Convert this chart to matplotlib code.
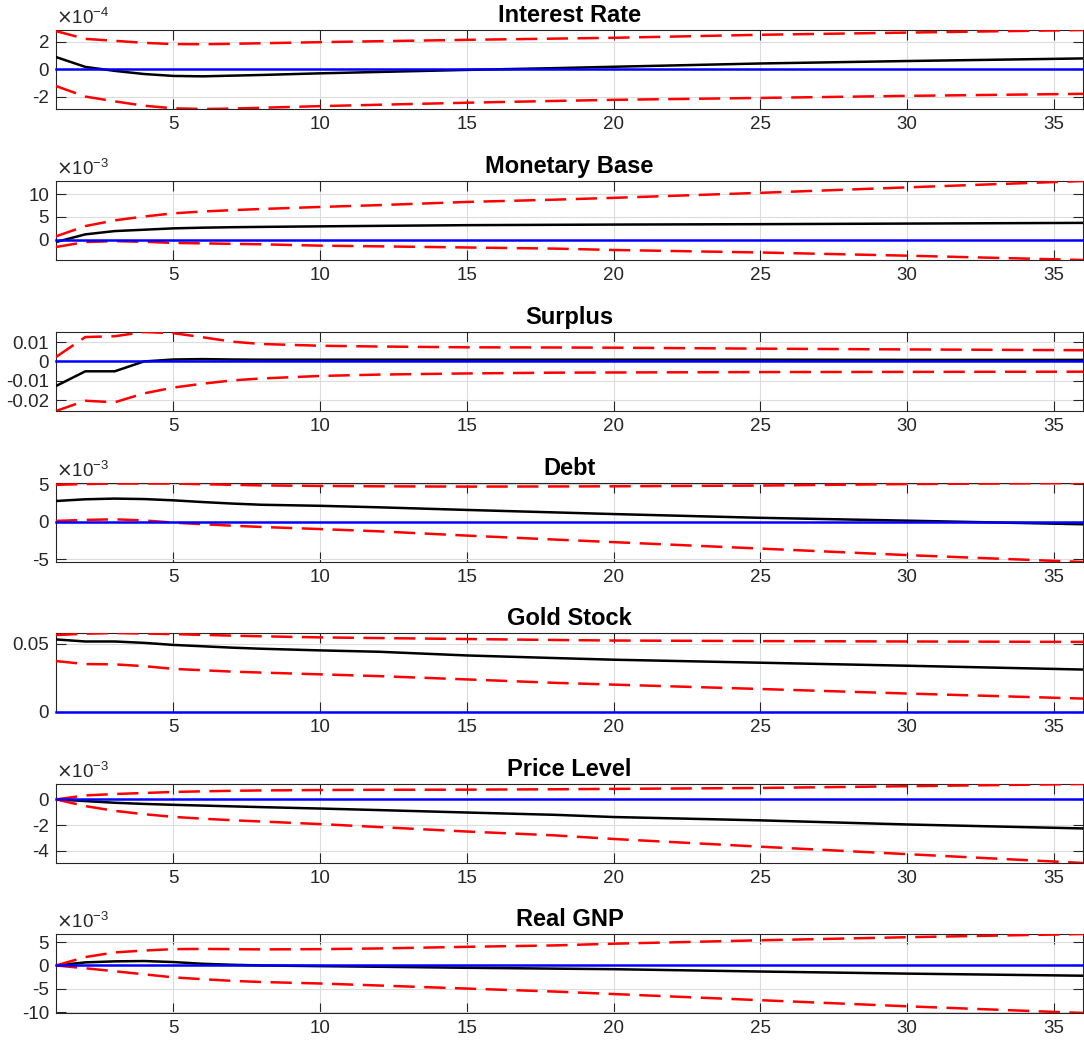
import numpy as np
import matplotlib
matplotlib.use('Agg')
import matplotlib.pyplot as plt
from matplotlib.ticker import FuncFormatter

plt.rcParams['font.family'] = ['Liberation Sans', 'DejaVu Sans']
plt.rcParams['axes.unicode_minus'] = False

# horizons at which the responses are given
h = [1, 2, 3, 4, 5, 6, 7, 8, 10, 12, 15, 18, 20, 25, 30, 36]

titles = ['Interest Rate', 'Monetary Base', 'Surplus', 'Debt',
          'Gold Stock', 'Price Level', 'Real GNP']
# power of ten shown above each axis (0 = none)
exps = [-4, -3, 0, -3, 0, -3, -3]
yticks = [[-2, 0, 2], [0, 5, 10], [-0.02, -0.01, 0, 0.01], [-5, 0, 5],
          [0, 0.05], [-4, -2, 0], [-10, -5, 0, 5]]

rate_med = [0.89, 0.17, -0.12, -0.35, -0.49, -0.52, -0.47, -0.42, -0.30, -0.20, -0.05, 0.08, 0.18, 0.42, 0.60, 0.79]
rate_hi = [2.79, 2.22, 2.08, 1.93, 1.84, 1.83, 1.86, 1.90, 1.98, 2.05, 2.15, 2.24, 2.30, 2.52, 2.68, 2.87]
rate_lo = [-1.23, -2.00, -2.35, -2.67, -2.86, -2.91, -2.88, -2.82, -2.70, -2.60, -2.45, -2.32, -2.24, -2.10, -1.95, -1.80]

base_med = [-0.50, 1.18, 1.90, 2.20, 2.50, 2.65, 2.75, 2.82, 2.94, 3.05, 3.20, 3.28, 3.33, 3.42, 3.55, 3.70]
base_hi = [0.74, 3.00, 4.26, 5.10, 5.80, 6.20, 6.50, 6.75, 7.20, 7.60, 8.30, 8.80, 9.20, 10.30, 11.50, 12.90]
base_lo = [-1.60, -0.50, -0.30, -0.45, -0.70, -0.80, -0.90, -1.00, -1.30, -1.45, -1.70, -1.95, -2.25, -2.80, -3.50, -4.45]

surp_med = [-0.0127, -0.0051, -0.0051, 0.0000, 0.0010, 0.0012, 0.0010, 0.0009, 0.0009, 0.0009, 0.0009, 0.0009, 0.0009, 0.0009, 0.0008, 0.0008]
surp_hi = [0.0023, 0.0126, 0.0130, 0.0152, 0.0146, 0.0125, 0.0102, 0.0090, 0.0081, 0.0077, 0.0073, 0.0072, 0.0071, 0.0066, 0.0062, 0.0058]
surp_lo = [-0.0256, -0.0203, -0.0211, -0.0165, -0.0135, -0.0115, -0.0098, -0.0088, -0.0075, -0.0068, -0.0062, -0.0058, -0.0057, -0.0055, -0.0054, -0.0053]

debt_med = [2.74, 2.97, 3.06, 3.00, 2.83, 2.60, 2.40, 2.24, 2.10, 1.90, 1.55, 1.22, 1.00, 0.50, 0.12, -0.36]
debt_hi = [4.90, 5.00, 5.07, 5.07, 5.07, 4.98, 4.90, 4.82, 4.75, 4.70, 4.66, 4.68, 4.70, 4.80, 5.00, 5.14]
debt_lo = [0.09, 0.22, 0.30, 0.15, -0.14, -0.35, -0.55, -0.72, -1.00, -1.30, -1.87, -2.40, -2.74, -3.60, -4.47, -5.39]

gold_med = [0.0530, 0.0515, 0.0515, 0.0505, 0.0490, 0.0480, 0.0470, 0.0462, 0.0450, 0.0440, 0.0413, 0.0394, 0.0382, 0.0360, 0.0338, 0.0310]
gold_hi = [0.0562, 0.0572, 0.0577, 0.0573, 0.0569, 0.0563, 0.0558, 0.0553, 0.0545, 0.0540, 0.0533, 0.0526, 0.0522, 0.0518, 0.0515, 0.0512]
gold_lo = [0.0372, 0.0350, 0.0348, 0.0335, 0.0315, 0.0305, 0.0295, 0.0288, 0.0275, 0.0262, 0.0238, 0.0213, 0.0200, 0.0168, 0.0135, 0.0098]

price_med = [0, -0.13, -0.26, -0.35, -0.42, -0.48, -0.54, -0.60, -0.71, -0.83, -1.02, -1.20, -1.37, -1.63, -1.95, -2.26]
price_hi = [0, 0.31, 0.42, 0.50, 0.58, 0.63, 0.67, 0.70, 0.73, 0.75, 0.76, 0.79, 0.82, 0.89, 1.03, 1.20]
price_lo = [0, -0.52, -0.89, -1.15, -1.36, -1.50, -1.62, -1.72, -1.92, -2.15, -2.50, -2.80, -3.08, -3.68, -4.26, -4.95]

gnp_med = [0, 0.66, 0.88, 0.95, 0.73, 0.36, 0.15, 0.00, -0.15, -0.28, -0.50, -0.68, -0.80, -1.30, -1.75, -2.20]
gnp_hi = [0, 1.80, 2.80, 3.20, 3.50, 3.55, 3.50, 3.45, 3.50, 3.65, 4.00, 4.30, 4.67, 5.40, 6.06, 6.75]
gnp_lo = [0, -0.60, -1.24, -1.90, -2.55, -2.95, -3.30, -3.55, -3.87, -4.30, -4.96, -5.60, -6.13, -7.45, -8.76, -10.20]

meds = [rate_med, base_med, surp_med, debt_med, gold_med, price_med, gnp_med]
his = [rate_hi, base_hi, surp_hi, debt_hi, gold_hi, price_hi, gnp_hi]
los = [rate_lo, base_lo, surp_lo, debt_lo, gold_lo, price_lo, gnp_lo]

fig = plt.figure(figsize=(10.84, 10.40), dpi=100)
W, H = 1084.0, 1040.0
tops = [30, 181, 332, 483, 633, 784, 934]
ax_h = 79

for i in range(7):
    ax = fig.add_axes([56 / W, 1 - (tops[i] + ax_h) / H, 1027 / W, ax_h / H])
    sc = 10.0 ** exps[i]
    med = np.array(meds[i]) * sc
    hi = np.array(his[i]) * sc
    lo = np.array(los[i]) * sc
    ax.plot(h, med, color='k', lw=1.8, zorder=3)
    ax.plot(h, hi, color='r', lw=1.8, dashes=(8.5, 3.8), zorder=3)
    ax.plot(h, lo, color='r', lw=1.8, dashes=(8.5, 3.8), zorder=3)
    ax.plot([1, 36], [0, 0], color='b', lw=1.8, zorder=4, clip_on=False)

    ymin = min(lo.min(), med.min(), 0)
    ymax = max(hi.max(), med.max(), 0)
    ax.set_xlim(1, 36)
    ax.set_ylim(ymin, ymax)
    ax.set_xticks([5, 10, 15, 20, 25, 30, 35])
    ax.set_yticks(np.array(yticks[i]) * sc)
    ax.yaxis.set_major_formatter(FuncFormatter(lambda v, p, s=sc: '%g' % round(v / s, 6)))
    ax.grid(True, color='#dcdcdc', lw=0.8)
    ax.set_axisbelow(True)
    ax.tick_params(direction='in', top=True, right=True, length=7, width=0.8,
                   labelsize=13.5, colors='#262626', pad=5)
    for sp in ax.spines.values():
        sp.set_color('#262626')
        sp.set_linewidth(0.8)
    ax.set_title(titles[i], fontsize=17, fontweight='bold', pad=6)
    if exps[i] != 0:
        ax.text(0.0, 1.03, r'$\times\mathregular{10^{%d}}$' % exps[i],
                transform=ax.transAxes, fontsize=13.5, color='#262626',
                ha='left', va='bottom')

fig.savefig('out.png', dpi=100, facecolor='white')
